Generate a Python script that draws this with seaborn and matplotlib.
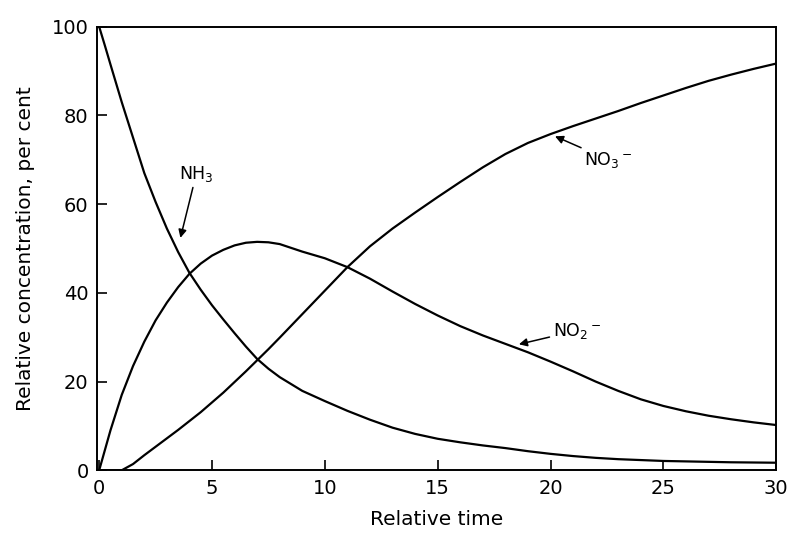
import matplotlib
matplotlib.use("Agg")
import matplotlib.pyplot as plt
import seaborn as sns
import pandas as pd

# Relative time points and the relative concentrations (per cent) of each species
time = [0, 0.25, 0.5, 1, 1.5, 2, 2.5, 3, 3.5, 4, 4.5, 5, 5.5, 6, 6.5, 7, 7.5,
        8, 9, 10, 11, 12, 13, 14, 15, 16, 17, 18, 19, 20, 21, 22, 23, 24, 25,
        26, 27, 28, 29, 30]
nh3 = [100, 95.8, 91.5, 83, 75, 67, 60.5, 54.5, 49.2, 44.5, 40.7, 37.2, 34,
       30.9, 27.9, 25.1, 22.9, 21, 17.9, 15.6, 13.4, 11.4, 9.6, 8.2, 7.1, 6.3,
       5.6, 5, 4.3, 3.7, 3.2, 2.8, 2.5, 2.3, 2.1, 2, 1.9, 1.8, 1.75, 1.7]
no2 = [0, 4.5, 9, 17, 23.5, 29, 33.8, 37.8, 41.3, 44.3, 46.6, 48.4, 49.7,
       50.7, 51.3, 51.5, 51.4, 51, 49.3, 47.8, 45.8, 43.2, 40.3, 37.5, 34.9,
       32.5, 30.4, 28.5, 26.6, 24.5, 22.3, 20, 17.9, 16, 14.5, 13.3, 12.3,
       11.5, 10.8, 10.2]
no3 = [0, 0, 0, 0, 1.4, 3.4, 5.3, 7.2, 9.1, 11.1, 13.1, 15.3, 17.5, 19.9,
       22.3, 24.8, 27.3, 29.9, 35.2, 40.5, 45.8, 50.5, 54.5, 58.1, 61.6, 65,
       68.3, 71.3, 73.8, 75.8, 77.6, 79.3, 81, 82.8, 84.5, 86.2, 87.8, 89.2,
       90.5, 91.7]

species = ["NH$_3$", "NO$_2$$^-$", "NO$_3$$^-$"]
x_ticks = [0, 5, 10, 15, 20, 25, 30]
y_ticks = [0, 20, 40, 60, 80, 100]

df = pd.DataFrame({"time": time * 3,
                   "conc": nh3 + no2 + no3,
                   "species": [species[0]] * len(time) + [species[1]] * len(time)
                              + [species[2]] * len(time)})

sns.set_theme(style="ticks")
plt.rcParams["font.family"] = ["DejaVu Sans"]
plt.rcParams["text.color"] = "black"
plt.rcParams["axes.labelcolor"] = "black"
plt.rcParams["xtick.color"] = "black"
plt.rcParams["ytick.color"] = "black"

fig = plt.figure(figsize=(7.88, 5.35), dpi=100)
ax = fig.add_axes([0.123, 0.121, 0.862, 0.829])

sns.lineplot(data=df, x="time", y="conc", units="species", estimator=None,
             color="black", linewidth=1.6, ax=ax, legend=False)

ax.set_xlim(-0.1, 30)
ax.set_ylim(0, 100)
ax.set_xticks(x_ticks)
ax.set_yticks(y_ticks)
ax.set_xticklabels([str(v) for v in x_ticks], fontsize=14)
ax.set_yticklabels([str(v) for v in y_ticks], fontsize=14)
ax.tick_params(direction="in", length=7, width=1.2, color="black", pad=6,
               labelcolor="black")
for side in ax.spines.values():
    side.set_color("black")
    side.set_linewidth(1.4)

ax.set_xlabel("Relative time", fontsize=14.5, labelpad=9, color="black")
ax.set_ylabel("Relative concentration, per cent", fontsize=14.5, labelpad=12,
              color="black")

arrow = dict(arrowstyle="-|>", color="black", lw=1.1, mutation_scale=12,
             shrinkA=0, shrinkB=0)
ax.annotate(species[0], xy=(3.6, 52.4), xytext=(4.3, 64.5), fontsize=12.5,
            ha="center", va="bottom", arrowprops=arrow)
ax.annotate(species[2], xy=(20.2, 75.3), xytext=(21.5, 70), fontsize=12.5,
            ha="left", va="center", arrowprops=arrow)
ax.annotate(species[1], xy=(18.6, 28.4), xytext=(20.1, 31.5), fontsize=12.5,
            ha="left", va="center", arrowprops=arrow)

fig.savefig("out.png", dpi=100)
